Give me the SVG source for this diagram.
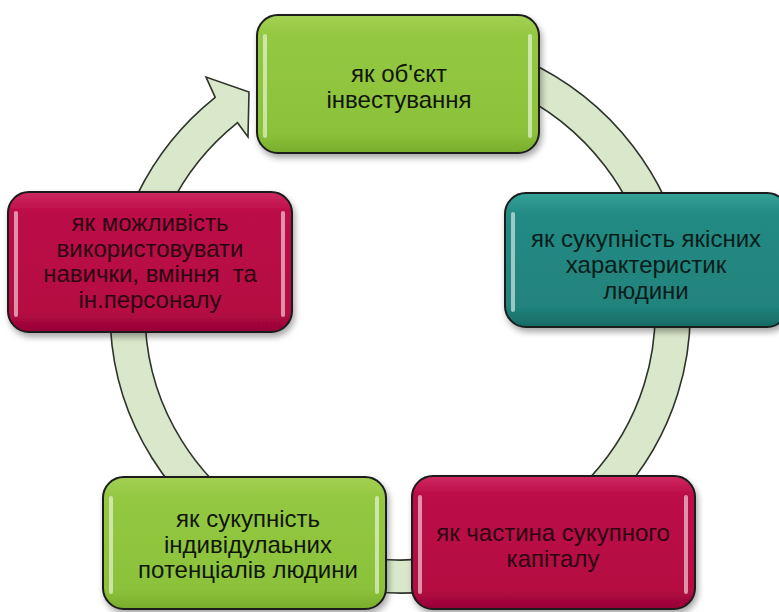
<svg xmlns="http://www.w3.org/2000/svg" width="779" height="612" viewBox="0 0 779 612">
<style>
.box{stroke:#1a1a1a;stroke-width:2}
.hl{fill:#ffffff;opacity:0.55}
.t{font-family:"Liberation Sans",Arial,sans-serif;font-size:24px;text-anchor:middle}
.tg{fill:#10150a}
.tt{fill:#081c1a}
.tc{fill:#2a0410}
</style>
<defs>
<linearGradient id="gG" x1="0" y1="0" x2="0" y2="1">
<stop offset="0" stop-color="#a3d053"/>
<stop offset="0.15" stop-color="#93c841"/>
<stop offset="0.85" stop-color="#8cc23a"/>
<stop offset="1" stop-color="#78ad2c"/>
</linearGradient>
<linearGradient id="gT" x1="0" y1="0" x2="0" y2="1">
<stop offset="0" stop-color="#34a198"/>
<stop offset="0.15" stop-color="#248b84"/>
<stop offset="0.85" stop-color="#20837c"/>
<stop offset="1" stop-color="#176a64"/>
</linearGradient>
<linearGradient id="gC" x1="0" y1="0" x2="0" y2="1">
<stop offset="0" stop-color="#cf2a62"/>
<stop offset="0.15" stop-color="#bb0a47"/>
<stop offset="0.85" stop-color="#b50843"/>
<stop offset="1" stop-color="#960536"/>
</linearGradient>
<filter id="sh" x="-10%" y="-10%" width="125%" height="130%">
<feDropShadow dx="2" dy="4" stdDeviation="3" flood-color="#000" flood-opacity="0.35"/>
</filter>
</defs>
<g id="connectors">
<path d="M400,33 A290 280 0 1 1 215.2,97.3 L206,77 L249,92 L248,137 L237.5,122.7 A255 247 0 1 0 400,66 Z" fill="#d9e7cb" stroke="#2e332b" stroke-width="1.6" stroke-linejoin="miter"/>
</g>
<g id="node-top">
<rect class="box" x="257" y="15" width="282" height="138" rx="21" fill="url(#gG)" filter="url(#sh)"/>
<rect class="hl" x="263" y="34" width="4" height="104" rx="2"/>
<rect class="hl" x="528" y="34" width="4" height="104" rx="2"/>
<text class="t tg" x="399" y="82">як об'єкт</text>
<text class="t tg" x="399" y="108">інвестування</text>
</g>
<g id="node-right">
<rect class="box" x="505" y="193" width="283" height="134" rx="21" fill="url(#gT)" filter="url(#sh)"/>
<rect class="hl" x="511" y="212" width="4" height="100" rx="2"/>
<text class="t tt" x="646" y="247">як сукупність якісних</text>
<text class="t tt" x="646" y="273">характеристик</text>
<text class="t tt" x="646" y="299">людини</text>
</g>
<g id="node-left">
<rect class="box" x="8" y="192" width="284" height="140" rx="21" fill="url(#gC)" filter="url(#sh)"/>
<rect class="hl" x="14" y="211" width="4" height="106" rx="2"/>
<rect class="hl" x="281" y="211" width="4" height="106" rx="2"/>
<text class="t tc" x="150" y="231">як можливість</text>
<text class="t tc" x="150" y="256.5">використовувати</text>
<text class="t tc" x="150" y="282">навички, вміння&#160; та</text>
<text class="t tc" x="150" y="307.5">ін.персоналу</text>
</g>
<g id="node-bottom-left">
<rect class="box" x="103" y="477" width="283" height="132" rx="21" fill="url(#gG)" filter="url(#sh)"/>
<rect class="hl" x="109" y="496" width="4" height="98" rx="2"/>
<rect class="hl" x="375" y="496" width="4" height="98" rx="2"/>
<text class="t tg" x="248" y="527">як сукупність</text>
<text class="t tg" x="248" y="552.5">індивідулаьних</text>
<text class="t tg" x="248" y="578">потенціалів людини</text>
</g>
<g id="node-bottom-right">
<rect class="box" x="412" y="476" width="283" height="133" rx="21" fill="url(#gC)" filter="url(#sh)"/>
<rect class="hl" x="418" y="495" width="4" height="99" rx="2"/>
<rect class="hl" x="684" y="495" width="4" height="99" rx="2"/>
<text class="t tc" x="553" y="541">як частина сукупного</text>
<text class="t tc" x="553" y="567">капіталу</text>
</g>
</svg>
